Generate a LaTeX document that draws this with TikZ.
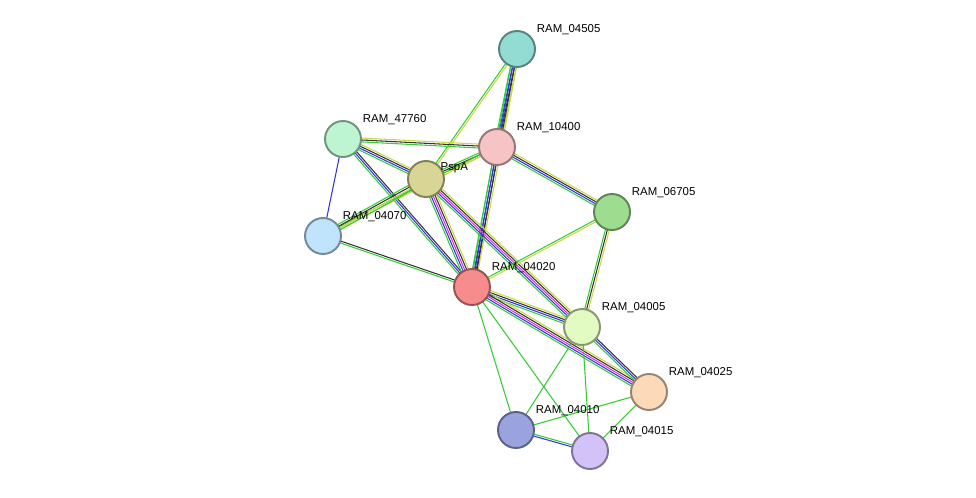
\documentclass[tikz,border=0pt]{standalone}
\usepackage{fontspec}
\setmainfont{Liberation Sans}
\usetikzlibrary{calc,backgrounds}

\definecolor{cTeal}{HTML}{93DCD4}
\definecolor{cMint}{HTML}{BDF5D2}
\definecolor{cPink}{HTML}{F6C4C4}
\definecolor{cKhaki}{HTML}{D9D594}
\definecolor{cGreen}{HTML}{9EDD8F}
\definecolor{cSky}{HTML}{BFE4FB}
\definecolor{cRed}{HTML}{F68C8C}
\definecolor{cLime}{HTML}{E1FBC2}
\definecolor{cPeach}{HTML}{FCDAB9}
\definecolor{cIndigo}{HTML}{9AA3DE}
\definecolor{cLav}{HTML}{D3C2F7}
\definecolor{eG}{HTML}{33CC33}
\definecolor{eB}{HTML}{3333EE}
\definecolor{eK}{HTML}{333333}
\definecolor{eM}{HTML}{DD33DD}
\definecolor{eY}{HTML}{C8D840}

\tikzset{
  prot/.style={circle, minimum size=0.72cm, inner sep=0pt, line width=1.1pt,
    fill=#1, draw=#1!60!black},
  lbl/.style={font=\fontsize{6.5}{7}\selectfont, inner sep=0.5pt, anchor=south west, xshift=3pt}
}

% parallel coloured link between two named proteins
\newcommand\lnk[4]{%
  \foreach \c [count=\i] in {#4}{%
    \pgfmathsetmacro\off{(\i-(#3+1)/2)*1.1}
    \draw[\c, line width=0.6pt] ($(#1)!\off pt!90:(#2)$) -- ($(#2)!\off pt!-90:(#1)$);
  }}

\begin{document}
\begin{tikzpicture}[x=0.02cm, y=-0.02cm]
\useasboundingbox (0,0) rectangle (976,497);

\node[prot=cTeal]   (r4505)  at (517,49)  {};
\node[prot=cMint]   (r47760) at (343,139) {};
\node[prot=cPink]   (r10400) at (497,147) {};
\node[prot=cKhaki]  (pspA)   at (426,179) {};
\node[prot=cGreen]  (r6705)  at (612,212) {};
\node[prot=cSky]    (r4070)  at (323,236) {};
\node[prot=cRed]    (r4020)  at (472,287) {};
\node[prot=cLime]   (r4005)  at (582,327) {};
\node[prot=cPeach]  (r4025)  at (649,392) {};
\node[prot=cIndigo] (r4010)  at (516,430) {};
\node[prot=cLav]    (r4015)  at (590,451) {};

\node[lbl] at (r4505.north east)  {RAM\_04505};
\node[lbl] at (r47760.north east) {RAM\_47760};
\node[lbl] at (r10400.north east) {RAM\_10400};
\node[lbl, xshift=-3pt, yshift=-5pt] at (pspA.north east) {PspA};
\node[lbl] at (r6705.north east)  {RAM\_06705};
\node[lbl] at (r4070.north east)  {RAM\_04070};
\node[lbl] at (r4020.north east)  {RAM\_04020};
\node[lbl] at (r4005.north east)  {RAM\_04005};
\node[lbl] at (r4025.north east)  {RAM\_04025};
\node[lbl] at (r4010.north east)  {RAM\_04010};
\node[lbl] at (r4015.north east)  {RAM\_04015};

\begin{scope}[on background layer]
  \lnk{r4505}{r10400}{4}{eG,eB,eK,eY}
  \lnk{r4505}{pspA}{2}{eG,eY}
  \lnk{r4505}{r4020}{4}{eG,eB,eK,eY}
  \lnk{r47760}{r10400}{3}{eG,eK,eY}
  \lnk{r47760}{pspA}{4}{eG,eB,eK,eY}
  \lnk{r47760}{r4070}{1}{eB}
  \lnk{r47760}{r4020}{3}{eG,eB,eK}
  \lnk{r10400}{pspA}{3}{eG,eK,eY}
  \lnk{r10400}{r4070}{2}{eG,eY}
  \lnk{r10400}{r6705}{4}{eG,eB,eK,eY}
  \lnk{r10400}{r4020}{3}{eG,eB,eK}
  \lnk{pspA}{r4070}{4}{eG,eK,eY,eG}
  \lnk{pspA}{r4020}{5}{eG,eB,eM,eK,eY}
  \lnk{pspA}{r4005}{5}{eG,eB,eM,eK,eY}
  \lnk{r6705}{r4020}{2}{eG,eY}
  \lnk{r6705}{r4005}{3}{eG,eK,eY}
  \lnk{r4070}{r4020}{2}{eG,eK}
  \lnk{r4020}{r4005}{4}{eG,eB,eK,eY}
  \lnk{r4020}{r4025}{5}{eG,eB,eM,eK,eY}
  \lnk{r4020}{r4010}{1}{eG}
  \lnk{r4020}{r4015}{1}{eG}
  \lnk{r4005}{r4025}{3}{eG,eB,eK}
  \lnk{r4005}{r4010}{1}{eG}
  \lnk{r4005}{r4015}{1}{eG}
  \lnk{r4025}{r4010}{1}{eG}
  \lnk{r4025}{r4015}{1}{eG}
  \lnk{r4010}{r4015}{2}{eB,eG}
\end{scope}
\end{tikzpicture}
\end{document}
